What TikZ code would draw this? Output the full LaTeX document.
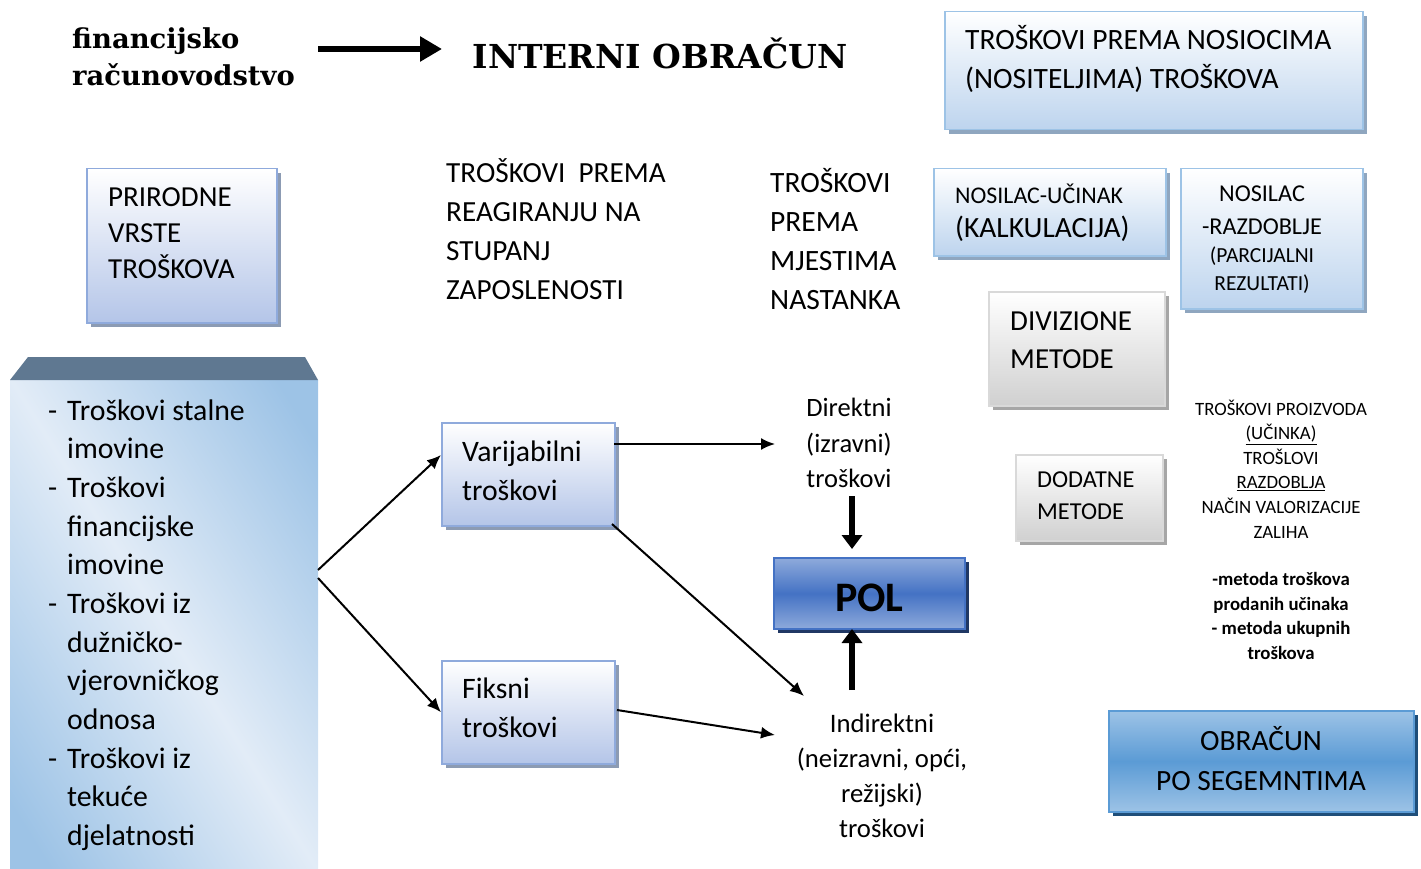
\documentclass[tikz,border=0pt]{standalone}
\usepackage{fontspec}
\setmainfont{Carlito}
\newfontfamily\slabfont{DejaVu Serif}
\usetikzlibrary{arrows.meta,shadows}
\definecolor{lbdark}{HTML}{9DC3E6}
\definecolor{lblight}{HTML}{E2ECF7}
\definecolor{hdrcol}{HTML}{5F7891}
\definecolor{skyborder}{HTML}{9DC3E6}
\definecolor{skybot}{HTML}{BDD4EE}
\definecolor{lavborder}{HTML}{8FAADC}
\definecolor{lavbot}{HTML}{B4C5E8}
\definecolor{lavshadow}{HTML}{8C9BB3}
\definecolor{skyshadow}{HTML}{8FA6BF}
\definecolor{grayborder}{HTML}{D9D9D9}
\definecolor{graybot}{HTML}{D0D0D0}
\definecolor{grayshadow}{HTML}{A6A6A6}
\definecolor{polmid}{HTML}{4472C4}
\definecolor{polout}{HTML}{8EAADB}
\definecolor{polshadow}{HTML}{203864}
\definecolor{obrmid}{HTML}{5B9BD5}
\definecolor{obrout}{HTML}{9DC3E6}
\definecolor{obrshadow}{HTML}{1F4E79}
\pgfdeclarehorizontalshading{lbshade}{100bp}{color(0bp)=(lbdark); color(20bp)=(lbdark); color(50bp)=(lblight); color(80bp)=(lbdark); color(100bp)=(lbdark)}
\tikzset{
  boxbase/.style={draw, line width=1.5pt, anchor=north west, inner sep=0pt},
  skybox/.style={boxbase, draw=skyborder, top color=white, bottom color=skybot,
    drop shadow={shadow xshift=4pt, shadow yshift=-4pt, fill=skyshadow, opacity=1}},
  lavbox/.style={boxbase, draw=lavborder, top color=white, bottom color=lavbot,
    drop shadow={shadow xshift=4pt, shadow yshift=-4pt, fill=lavshadow, opacity=1}},
  graybox/.style={boxbase, draw=grayborder, top color=white, bottom color=graybot,
    drop shadow={shadow xshift=4pt, shadow yshift=-4pt, fill=grayshadow, opacity=1}},
  polbox/.style={boxbase, draw=polmid, top color=polout, bottom color=polout, middle color=polmid,
    drop shadow={shadow xshift=4pt, shadow yshift=-4pt, fill=polshadow, opacity=1}},
  obrbox/.style={boxbase, draw=obrmid, top color=obrout, bottom color=obrout, middle color=obrmid,
    drop shadow={shadow xshift=4pt, shadow yshift=-4pt, fill=obrshadow, opacity=1}},
  txt/.style={inner sep=0pt, align=left, anchor=west},
  ctxt/.style={inner sep=0pt, align=center, anchor=center},
  thin/.style={line width=2pt, -{Latex[length=14pt, width=12pt]}},
  thick/.style={line width=6pt, -{Triangle[length=14pt, width=20pt]}},
}
\begin{document}
\begin{tikzpicture}[x=1pt, y=-1pt]
\path[use as bounding box] (0,0) rectangle (1421,869);

% title row
\node[txt, font=\slabfont\bfseries\fontsize{27.4}{37}\selectfont] (fin) at (72,57) {financijsko\\računovodstvo};
\node[ctxt, font=\slabfont\bfseries\fontsize{33}{38}\selectfont] (int) at (660,53) {INTERNI OBRAČUN};
\coordinate (ta) at (318,49);
\coordinate (tb) at (442,49);
\draw[line width=6pt, -{Triangle[length=22pt, width=24pt]}] (ta) -- (tb);

\node[skybox, minimum width=418pt, minimum height=118pt] (nos) at (944,11) {};
\node[txt, font=\fontsize{29.5}{39}\selectfont] (nost) at (965,59) {TROŠKOVI PREMA NOSIOCIMA\\(NOSITELJIMA) TROŠKOVA};

% prirodne
\node[lavbox, minimum width=190pt, minimum height=154pt] (pri) at (86,168) {};
\node[txt, font=\fontsize{29}{36}\selectfont] (prit) at (108,233) {PRIRODNE\\VRSTE\\TROŠKOVA};

% left body box
\path[shading=lbshade, shading angle=32] (10,380) rectangle (318,869);
\coordinate (lbe1) at (318,570);
\coordinate (lbe2) at (318,578);
\fill[hdrcol] (28,357) -- (305,357) -- (318,380) -- (10,380) -- cycle;
\node[txt, font=\fontsize{29.8}{38.65}\selectfont] (lbt) at (48,625)
{\makebox[19pt][l]{-}Troškovi stalne\\
\hspace*{19pt}imovine\\
\makebox[19pt][l]{-}Troškovi\\
\hspace*{19pt}financijske\\
\hspace*{19pt}imovine\\
\makebox[19pt][l]{-}Troškovi iz\\
\hspace*{19pt}dužničko-\\
\hspace*{19pt}vjerovničkog\\
\hspace*{19pt}odnosa\\
\makebox[19pt][l]{-}Troškovi iz\\
\hspace*{19pt}tekuće\\
\hspace*{19pt}djelatnosti};

% middle headings
\node[txt, font=\fontsize{29.2}{39}\selectfont] (rea) at (446,229) {TROŠKOVI\ \ PREMA\\REAGIRANJU NA\\STUPANJ\\ZAPOSLENOSTI};
\node[txt, font=\fontsize{29.5}{39}\selectfont] (mje) at (770,239) {TROŠKOVI\\PREMA\\MJESTIMA\\NASTANKA};

% nosilac boxes
\node[skybox, minimum width=232pt, minimum height=87pt] (nu) at (933,168) {};
\node[txt, font=\fontsize{23.9}{25}\selectfont] (nut1) at (955,194) {NOSILAC-UČINAK};
\node[txt, font=\fontsize{29.4}{30}\selectfont] (nut2) at (955,229) {(KALKULACIJA)};
\node[skybox, minimum width=182pt, minimum height=140pt] (nr) at (1180,168) {};
\node[ctxt, font=\fontsize{24.2}{26}\selectfont] (nrt1) at (1262,194) {NOSILAC};
\node[ctxt, font=\fontsize{24.2}{26}\selectfont] (nrt2) at (1262,227) {-RAZDOBLJE};
\node[ctxt, font=\fontsize{21.5}{23}\selectfont] (nrt3) at (1262,256) {(PARCIJALNI};
\node[ctxt, font=\fontsize{21.5}{23}\selectfont] (nrt4) at (1262,284) {REZULTATI)};

% gray boxes
\node[graybox, minimum width=176pt, minimum height=114pt] (div) at (988,291) {};
\node[txt, font=\fontsize{29}{38}\selectfont] (divt) at (1010,340) {DIVIZIONE\\METODE};
\node[graybox, minimum width=147pt, minimum height=86pt] (dod) at (1015,454) {};
\node[txt, font=\fontsize{24.3}{32}\selectfont] (dodt) at (1037,496) {DODATNE\\METODE};

% right list
\node[ctxt, font=\fontsize{18.8}{24.6}\selectfont] (rl1) at (1281,469) {TROŠKOVI PROIZVODA\\\underline{(UČINKA)}\\TROŠLOVI\\\underline{RAZDOBLJA}\\NAČIN VALORIZACIJE\\ZALIHA};
\node[ctxt, font=\bfseries\fontsize{18.8}{24.7}\selectfont] (rl2) at (1281,616) {-metoda troškova\\prodanih učinaka\\- metoda ukupnih\\troškova};

% var / fix
\node[lavbox, minimum width=173pt, minimum height=103pt] (var) at (441,422) {};
\node[txt, font=\fontsize{29.7}{39}\selectfont] (vart) at (462,471) {Varijabilni\\troškovi};
\node[lavbox, minimum width=173pt, minimum height=103pt] (fix) at (441,660) {};
\node[txt, font=\fontsize{29.7}{39}\selectfont] (fixt) at (462,708) {Fiksni\\troškovi};

% direct / indirect
\node[ctxt, font=\fontsize{26.5}{35.5}\selectfont] (dir) at (849,443) {Direktni\\(izravni)\\troškovi};
\node[ctxt, font=\fontsize{26.7}{35}\selectfont] (ind) at (882,776) {Indirektni\\(neizravni, opći,\\režijski)\\troškovi};

% POL
\node[polbox, minimum width=191pt, minimum height=71pt, text height=35pt, text depth=0pt,
  font=\bfseries\fontsize{42}{44}\selectfont, anchor=center] (pol) at (869.5,593.5) {POL};

% OBRACUN
\node[obrbox, minimum width=305pt, minimum height=101pt] (obr) at (1108,710) {};
\node[ctxt, font=\fontsize{29.4}{40}\selectfont] (obrt) at (1261,759) {OBRAČUN\\PO SEGEMNTIMA};

% connectors
\coordinate (vin) at (441,455);
\coordinate (vout1) at (614,444);
\coordinate (dirin) at (775,444);
\coordinate (vout2) at (612,524);
\coordinate (indin1) at (804,696);
\coordinate (fout) at (617,710);
\coordinate (indin2) at (775,735);
\coordinate (dirbot) at (852,496);
\coordinate (poltop) at (852,549);
\coordinate (indtop) at (852,690);
\coordinate (polbot) at (852,629);
\draw[thin] (lbe1) -- (vin);
\draw[thin] (lbe2) -- (fix.west);
\draw[thin] (vout1) -- (dirin);
\draw[thin] (vout2) -- (indin1);
\draw[thin] (fout) -- (indin2);
\draw[thick] (dirbot) -- (poltop);
\draw[thick] (indtop) -- (polbot);
\end{tikzpicture}
\end{document}
